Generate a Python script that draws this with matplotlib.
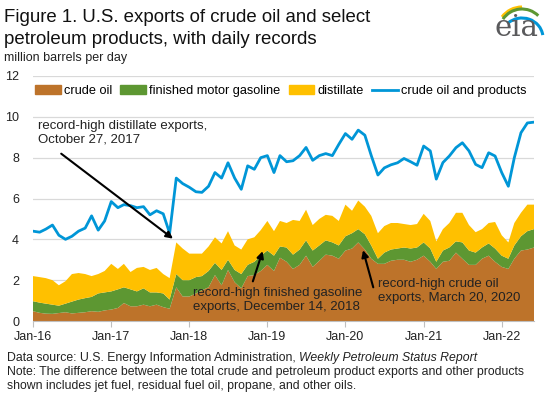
import matplotlib
matplotlib.use("Agg")
import matplotlib.pyplot as plt
import matplotlib.dates as mdates
from matplotlib.patches import Patch, Arc
from matplotlib.lines import Line2D
import pandas as pd

plt.rcParams["font.family"] = ["Liberation Sans", "DejaVu Sans"]

# monthly readings, Jan 2016 - Jun 2022 (million b/d)
months = pd.date_range("2016-01-01", periods=78, freq="MS")

crude = [
    0.48, 0.40, 0.36, 0.35, 0.39, 0.43, 0.37, 0.40, 0.43, 0.48, 0.45, 0.52,
    0.56, 0.64, 0.88, 0.72, 0.72, 0.80, 0.72, 0.80, 0.68, 0.60, 1.65, 1.20,
    1.20, 1.35, 1.50, 1.65, 2.25, 1.75, 2.50, 1.90, 1.60, 2.20, 2.25, 2.45,
    2.75, 2.45, 3.10, 2.90, 2.55, 2.75, 3.20, 2.65, 2.95, 3.25, 3.20, 3.05,
    3.45, 3.55, 3.85, 3.50, 3.05, 2.80, 2.80, 2.95, 3.00, 3.00, 2.90, 3.00,
    3.20, 2.90, 2.55, 2.90, 2.95, 3.35, 3.05, 2.75, 2.75, 3.05, 3.20, 2.90,
    2.65, 2.55, 3.05, 3.45, 3.50, 3.60,
]
gasoline = [
    0.49, 0.50, 0.49, 0.45, 0.36, 0.42, 0.58, 0.65, 0.69, 0.70, 0.90, 0.88,
    0.89, 0.91, 0.77, 0.83, 0.73, 0.80, 0.68, 0.60, 0.67, 0.45, 0.65, 0.80,
    0.80, 0.80, 0.70, 0.80, 0.60, 0.75, 0.50, 0.60, 0.70, 0.55, 0.65, 0.75,
    0.70, 0.75, 0.55, 0.70, 0.70, 0.75, 0.75, 0.80, 0.75, 0.70, 0.65, 0.65,
    0.70, 0.75, 0.65, 0.75, 0.65, 0.25, 0.55, 0.55, 0.55, 0.60, 0.65, 0.60,
    0.65, 0.65, 0.35, 0.55, 0.65, 0.55, 0.80, 0.70, 0.60, 0.55, 0.60, 0.65,
    0.55, 0.50, 0.65, 0.70, 0.90, 0.90,
]
distillate = [
    1.23, 1.25, 1.25, 1.20, 1.00, 1.10, 1.35, 1.30, 1.18, 1.02, 0.95, 1.05,
    1.35, 1.00, 1.15, 0.85, 1.15, 1.05, 1.10, 1.20, 0.95, 1.05, 1.55, 1.55,
    1.30, 1.15, 1.10, 1.20, 1.25, 1.30, 1.40, 1.20, 1.20, 1.25, 1.20, 1.25,
    1.45, 1.20, 1.25, 1.20, 1.70, 1.40, 1.50, 1.25, 1.30, 1.25, 1.30, 1.20,
    1.55, 1.10, 1.40, 1.35, 1.45, 1.25, 1.30, 1.30, 1.25, 1.15, 1.15, 1.15,
    1.40, 1.35, 1.00, 1.05, 1.20, 1.40, 1.45, 1.25, 1.00, 0.90, 1.00, 1.30,
    1.00, 0.80, 1.10, 1.15, 1.30, 1.20,
]
total = [
    4.40, 4.35, 4.50, 4.70, 4.20, 4.00, 4.15, 4.40, 4.55, 5.15, 4.45, 4.90,
    5.85, 5.55, 5.70, 5.65, 5.55, 5.60, 5.20, 5.40, 5.25, 4.30, 7.00, 6.73,
    6.55, 6.33, 6.30, 6.60, 7.27, 7.00, 7.75, 7.00, 6.45, 7.60, 7.43, 8.00,
    8.10, 7.27, 8.10, 7.80, 7.85, 8.10, 8.50, 7.87, 8.10, 8.20, 8.10, 8.65,
    9.18, 8.90, 9.35, 9.10, 8.10, 7.15, 7.50, 7.65, 7.75, 7.96, 7.80, 7.63,
    8.57, 8.33, 6.95, 7.76, 8.08, 8.49, 8.73, 8.33, 7.67, 7.51, 8.24, 8.08,
    7.27, 6.60, 8.00, 9.22, 9.70, 9.74,
]

series_labels = ["crude oil", "finished motor gasoline", "distillate", "crude oil and products"]
colors = ["#bd732a", "#5d9732", "#ffc000", "#0096d7"]

# record days called out on the chart
rec_dist = (pd.Timestamp("2017-10-27"), 3.95)
rec_gas = (pd.Timestamp("2018-12-14"), 3.55)
rec_crude = (pd.Timestamp("2020-03-20"), 3.6)

W, H = 550, 398
fig = plt.figure(figsize=(W / 100, H / 100), dpi=100)
ax = fig.add_axes([33 / W, 1 - 321 / H, (534 - 33) / W, (321 - 76) / H])

ax.stackplot(months, crude, gasoline, distillate, colors=colors[:3], linewidth=0)
ax.plot(months, total, color=colors[3], lw=2.0, solid_joinstyle="round")

ax.set_ylim(0, 12)
ax.set_yticks(range(0, 13, 2))
ax.set_xlim(months[0], months[-1])
ax.xaxis.set_major_locator(mdates.YearLocator())
ax.xaxis.set_major_formatter(mdates.DateFormatter("%b-%y"))
ax.grid(axis="y", color="#d9d9d9", lw=0.9)
ax.set_axisbelow(True)
for s in ["left", "right", "top"]:
    ax.spines[s].set_visible(False)
ax.spines["bottom"].set_color("#bfbfbf")
ax.tick_params(axis="y", length=0, pad=10, labelsize=9, labelcolor="#222222")
ax.tick_params(axis="x", length=4, color="#bfbfbf", pad=3, labelsize=9, labelcolor="#222222")

handles = [Patch(color=c) for c in colors[:3]] + [Line2D([], [], color=colors[3], lw=2)]
ax.legend(handles, series_labels, loc="center left", bbox_to_anchor=(0.004, 0.938), ncol=4,
          frameon=False, fontsize=9.2, borderaxespad=0, borderpad=0, handlelength=2.0,
          handletextpad=0.25, columnspacing=0.65)

arrow = dict(arrowstyle="-|>", color="black", lw=1.5, mutation_scale=10)
ax.annotate("record-high distillate exports,\nOctober 27, 2017", xy=rec_dist,
            xytext=(38 / W, 1 - 120 / H), textcoords="figure fraction", fontsize=9.5,
            va="top", ha="left", color="#222222")
ax.annotate("", xy=rec_dist, xytext=(59 / W, 1 - 152 / H), textcoords="figure fraction",
            arrowprops=arrow)
ax.annotate("record-high finished gasoline\nexports, December 14, 2018", xy=rec_gas,
            xytext=(193 / W, 1 - 287 / H), textcoords="figure fraction", fontsize=9.5,
            va="top", ha="left", color="#222222")
ax.annotate("", xy=rec_gas, xytext=(252 / W, 1 - 284 / H), textcoords="figure fraction",
            arrowprops=arrow)
ax.annotate("record-high crude oil\nexports, March 20, 2020", xy=rec_crude,
            xytext=(378 / W, 1 - 278 / H), textcoords="figure fraction", fontsize=9.5,
            va="top", ha="left", color="#222222")
ax.annotate("", xy=rec_crude, xytext=(374 / W, 1 - 290 / H), textcoords="figure fraction",
            arrowprops=arrow)

fig.text(4 / W, 1 - 22.5 / H, "Figure 1. U.S. exports of crude oil and select",
         fontsize=13.4, va="baseline", ha="left", color="#111111")
fig.text(4 / W, 1 - 44 / H, "petroleum products, with daily records",
         fontsize=13.4, va="baseline", ha="left", color="#111111")
fig.text(4 / W, 1 - 61 / H, "million barrels per day", fontsize=9, va="baseline", ha="left", color="#222222")

# footer with italic report title
r = fig.canvas.get_renderer()
t1 = fig.text(7 / W, 1 - 361 / H, "Data source: U.S. Energy Information Administration, ",
              fontsize=8.8, va="baseline", ha="left", color="#222222")
bb = t1.get_window_extent(renderer=r)
fig.text(bb.x1 / W, 1 - 361 / H, "Weekly Petroleum Status Report", fontsize=8.8, style="italic",
         va="baseline", ha="left", color="#222222")
fig.text(7 / W, 1 - 375 / H, "Note: The difference between the total crude and petroleum product exports and other products",
         fontsize=8.8, va="baseline", ha="left", color="#222222")
fig.text(7 / W, 1 - 389 / H, "shown includes jet fuel, residual fuel oil, propane, and other oils.",
         fontsize=8.8, va="baseline", ha="left", color="#222222")

# eia logo (x = px - 485, y = 50 - py)
lax = fig.add_axes([485 / W, 1 - 50 / H, 60 / W, 48 / H])
lax.set_xlim(0, 60)
lax.set_ylim(2, 50)
lax.axis("off")
lax.text(32, 16, "eia", fontsize=21, family="DejaVu Serif", color="#5a5a5c",
         ha="center", va="baseline")
lax.add_patch(Arc((37, 20), 50, 50, theta1=90, theta2=143, color="#ffc000", lw=2.2))
lax.add_patch(Arc((37, 20), 46, 46, theta1=45, theta2=146, color="#5d9732", lw=2.2))
lax.add_patch(Arc((37, 14), 42, 40, theta1=8, theta2=133, color="#0096d7", lw=2.2))

fig.savefig("out.png", dpi=100)
